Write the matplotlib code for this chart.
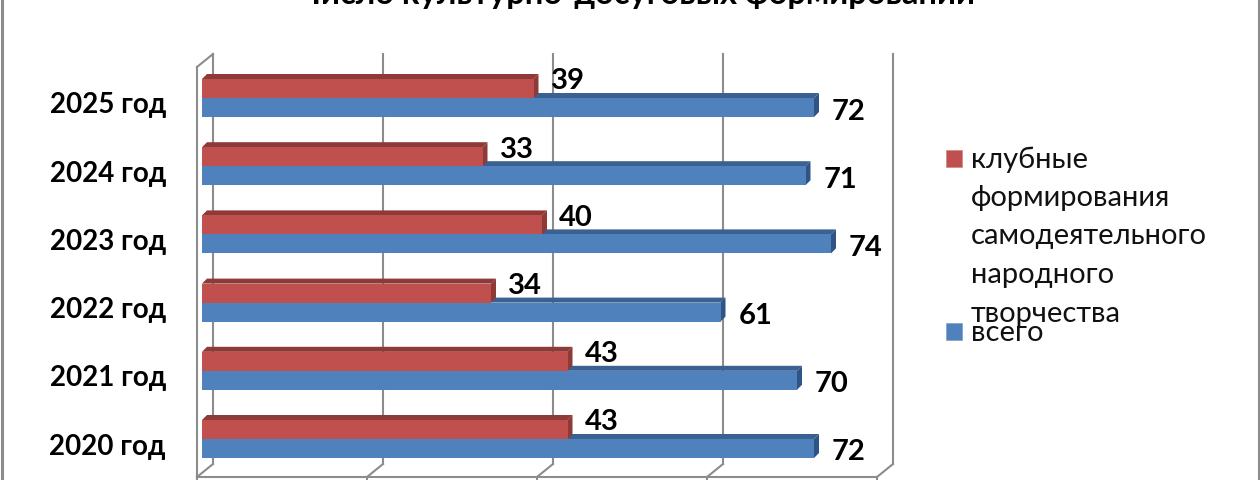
import matplotlib
matplotlib.use("Agg")
import matplotlib.pyplot as plt
from matplotlib.patches import Polygon, Rectangle

years = ["2020 год", "2021 год", "2022 год", "2023 год", "2024 год", "2025 год"]
total = [72, 70, 61, 74, 71, 72]
clubs = [43, 43, 34, 40, 33, 39]
ticks = [0, 20, 40, 60, 80]
title = "Число культурно-досуговых формирований"
legend_clubs = ["клубные", "формирования", "самодеятельного", "народного", "творчества"]
legend_total = "всего"

RED, RED_TOP, RED_SIDE = "#C0504D", "#8E3A38", "#8E3A38"
BLUE, BLUE_TOP, BLUE_SIDE = "#4F81BD", "#3A6190", "#2F5585"
WALL = "#8C8C8C"

plt.rcParams["font.family"] = ["Lato", "DejaVu Sans"]
W, H = 1260, 480
fig = plt.figure(figsize=(W / 100, H / 100), dpi=100, facecolor="white")
ax = fig.add_axes([0, 0, 1, 1])
PX_X, PX_Y = 8.5, 68.2
ax.set_xlim(-202 / PX_X, (W - 202) / PX_X)
ax.set_ylim(-(H - 439) / PX_Y, 439 / PX_Y)
ax.axis("off")

bar_h = 19 / PX_Y
dx, dy = 5 / PX_X, 5 / PX_Y

# chart frame
fig.add_artist(plt.Line2D([1.5 / W] * 2, [0, 1], color="#8C8C8C", lw=2.2))
fig.add_artist(plt.Line2D([1 - 1.5 / W] * 2, [0, 1], color="#8C8C8C", lw=2.2))

# 3-D wall and floor geometry (offsets from the data origin)
back_x, front_x = 11 / PX_X, -5 / PX_X
wall_top_back, wall_top_front = (439 - 54) / PX_Y, (439 - 67) / PX_Y
floor_back, floor_front = (439 - 464) / PX_Y, (439 - 477) / PX_Y
lw = 1.5
for t in ticks:
    ax.plot([t + back_x] * 2, [floor_back, wall_top_back], color=WALL, lw=lw, zorder=1)
    ax.plot([t + back_x, t + front_x], [floor_back, floor_front], color=WALL, lw=lw, zorder=1)
    ax.plot([t + front_x] * 2, [floor_front, floor_front - 5 / PX_Y], color=WALL, lw=lw, zorder=1)
ax.plot([ticks[0] + front_x, ticks[-1] + front_x], [floor_front] * 2, color=WALL, lw=lw, zorder=1)
ax.plot([ticks[0] + front_x] * 2, [floor_front, wall_top_front], color=WALL, lw=lw, zorder=1)
ax.plot([ticks[0] + front_x, ticks[0] + back_x], [wall_top_front, wall_top_back], color=WALL, lw=lw, zorder=1)


def bar3d(v, y0, face, top, side, z):
    y1 = y0 + bar_h
    ax.add_patch(Polygon([(0, y1), (dx, y1 + dy), (v + dx, y1 + dy), (v, y1)], fc=top, ec="none", zorder=z))
    ax.add_patch(Polygon([(v, y0), (v + dx, y0 + dy), (v + dx, y1 + dy), (v, y1)], fc=side, ec="none", zorder=z))
    ax.add_patch(Rectangle((0, y0), v, bar_h, fc=face, ec="none", zorder=z + 0.1))


for i, (name, t, c) in enumerate(zip(years, total, clubs)):
    bar3d(t, i - bar_h, BLUE, BLUE_TOP, BLUE_SIDE, 3)
    bar3d(c, i, RED, RED_TOP, RED_SIDE, 4)
    ax.text(t + 2.1, i - bar_h / 2 - 4 / PX_Y, str(t), fontsize=21, fontweight="bold",
            color="black", ha="left", va="center", zorder=6)
    ax.text(c + 2.0, i + bar_h / 2 + 7 / PX_Y, str(c), fontsize=21, fontweight="bold",
            color="black", ha="left", va="center", zorder=6)
    ax.text(-36 / PX_X, i - 7.5 / PX_Y, name, fontsize=20, fontweight="bold",
            color="black", ha="right", va="center", zorder=6)


def lx(p):
    return p / W


def ly(p):
    return 1 - p / H


lines_y = [160, 198, 236, 275, 314]
fig.patches.append(Rectangle((lx(945.5), ly(167)), 16.5 / W, 17 / H, transform=fig.transFigure,
                             fc=RED, ec="#D08C8A", lw=0.6))
for s, y in zip(legend_clubs, lines_y):
    fig.text(lx(971), ly(y), s, fontsize=21, color="#111111", va="center", ha="left")
fig.patches.append(Rectangle((lx(945.5), ly(340)), 16.5 / W, 17 / H, transform=fig.transFigure,
                             fc=BLUE, ec="#86A7D0", lw=0.6))
fig.text(lx(971), ly(333), legend_total, fontsize=21, color="#111111", va="center", ha="left")

fig.text(lx(637), ly(4), title, fontsize=23.5, fontweight="bold", color="black",
         ha="center", va="baseline")

fig.savefig("out.png", dpi=100, facecolor="white")
